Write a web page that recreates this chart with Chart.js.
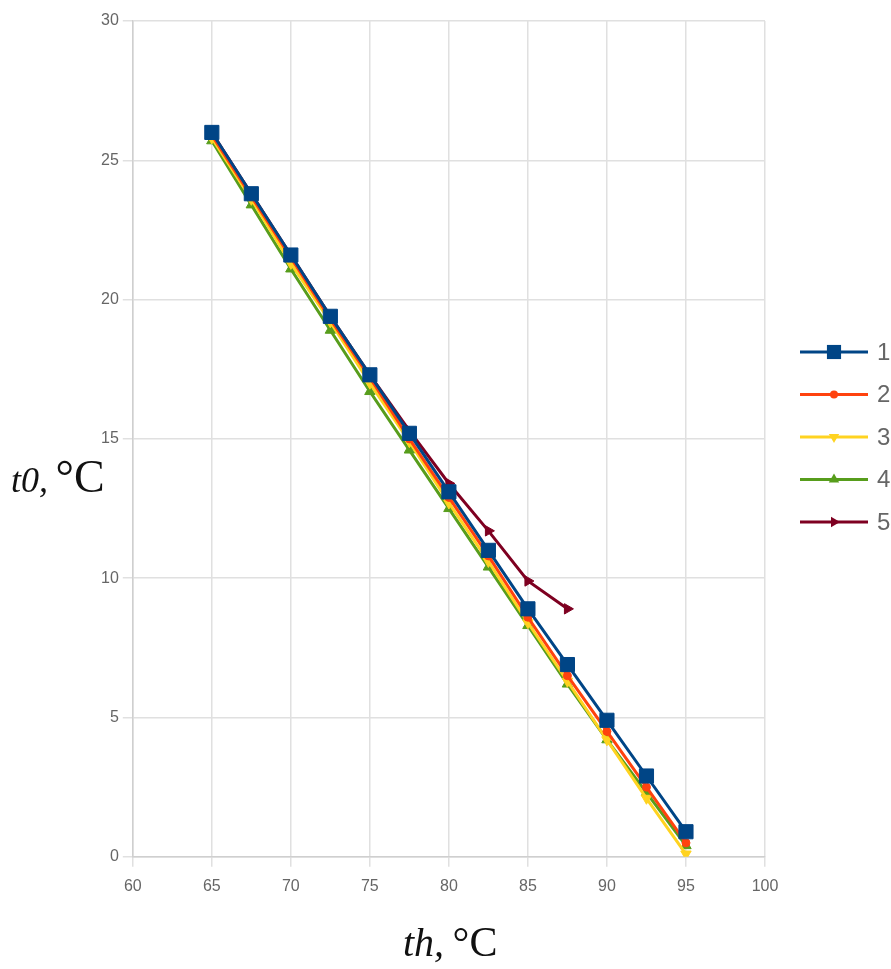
<!DOCTYPE html>
<html>
<head>
<meta charset="utf-8">
<script src="https://cdn.jsdelivr.net/npm/chart.js@4.4.1/dist/chart.umd.min.js"></script>
<style>
  html, body { margin: 0; padding: 0; background: #fff; }
  #wrap { width: 891px; height: 969px; position: relative; }
</style>
</head>
<body>
<div id="wrap"><canvas id="c" width="891" height="969"></canvas></div>
<script>
// ---- data ----
const thValues = [65, 67.5, 70, 72.5, 75, 77.5, 80, 82.5, 85, 87.5, 90, 92.5, 95];
const series1 = [26.0, 23.8, 21.6, 19.4, 17.3, 15.2, 13.1, 11.0, 8.9, 6.9, 4.9, 2.9, 0.9];
const series2 = [25.9, 23.7, 21.5, 19.3, 17.2, 15.0, 12.9, 10.8, 8.6, 6.5, 4.5, 2.5, 0.5];
const series3 = [25.8, 23.6, 21.3, 19.2, 17.0, 14.9, 12.7, 10.6, 8.4, 6.3, 4.2, 2.1, 0.1];
const series4 = [25.7, 23.4, 21.1, 18.9, 16.7, 14.6, 12.5, 10.4, 8.3, 6.2, 4.2, 2.3, 0.4];
const series5 = [26.0, 23.8, 21.6, 19.4, 17.3, 15.3, 13.4, 11.7, 9.9, 8.9];
const seriesLabels = ['1', '2', '3', '4', '5'];
const xTicks = [60, 65, 70, 75, 80, 85, 90, 95, 100];
const yTicks = [0, 5, 10, 15, 20, 25, 30];

const colors = ['#004586', '#ff420e', '#ffd320', '#579d1c', '#7e0021'];
const styles = [
  { pointStyle: 'rect', radius: 10, rotation: 0 },
  { pointStyle: 'circle', radius: 4, rotation: 0 },
  { pointStyle: 'triangle', radius: 6, rotation: 180 },
  { pointStyle: 'triangle', radius: 6, rotation: 0 },
  { pointStyle: 'triangle', radius: 6, rotation: 90 }
];
const allSeries = [series1, series2, series3, series4, series5];

function toPoints(ys) {
  return ys.map((y, i) => ({ x: thValues[i], y: y }));
}

const datasets = allSeries.map((s, i) => ({
  label: seriesLabels[i],
  data: toPoints(s),
  borderColor: colors[i],
  backgroundColor: colors[i],
  borderWidth: 3,
  pointStyle: styles[i].pointStyle,
  pointRadius: styles[i].radius,
  pointHoverRadius: styles[i].radius,
  rotation: styles[i].rotation,
  pointBorderWidth: 1,
  tension: 0,
  fill: false
}));

function drawMarker(ctx, x, y, st, color) {
  ctx.save();
  ctx.fillStyle = color;
  ctx.strokeStyle = color;
  ctx.translate(x, y);
  ctx.rotate(st.rotation * Math.PI / 180);
  const r = st.radius;
  ctx.beginPath();
  if (st.pointStyle === 'rect') {
    const s = r * Math.SQRT1_2;
    ctx.rect(-s, -s, 2 * s, 2 * s);
  } else if (st.pointStyle === 'circle') {
    ctx.arc(0, 0, r, 0, Math.PI * 2);
  } else {
    ctx.moveTo(0, -r);
    ctx.lineTo(r * Math.sin(2 * Math.PI / 3), -r * Math.cos(2 * Math.PI / 3));
    ctx.lineTo(r * Math.sin(4 * Math.PI / 3), -r * Math.cos(4 * Math.PI / 3));
    ctx.closePath();
  }
  ctx.fill();
  ctx.restore();
}

const decorPlugin = {
  id: 'decor',
  afterDraw(chart) {
    const ctx = chart.ctx;
    ctx.save();
    // legend
    for (let i = 0; i < seriesLabels.length; i++) {
      const y = 352 + i * 42.5;
      ctx.strokeStyle = colors[i];
      ctx.lineWidth = 3;
      ctx.beginPath();
      ctx.moveTo(800, y);
      ctx.lineTo(868, y);
      ctx.stroke();
      drawMarker(ctx, 834, y, styles[i], colors[i]);
      ctx.fillStyle = '#666';
      ctx.font = '24px "Liberation Sans", Arial, sans-serif';
      ctx.textBaseline = 'middle';
      ctx.textAlign = 'left';
      ctx.fillText(seriesLabels[i], 877, y + 1);
    }
    // y axis title: t0, °C
    ctx.fillStyle = '#111';
    ctx.textBaseline = 'alphabetic';
    ctx.font = 'italic 36px "Liberation Serif", "Times New Roman", serif';
    ctx.fillText('t0,', 11, 492);
    let w = ctx.measureText('t0,').width;
    ctx.font = '46px "Liberation Serif", "Times New Roman", serif';
    ctx.fillText(' °C', 11 + w - 4, 492);
    // x axis title: th, °C
    ctx.font = 'italic 40px "Liberation Serif", "Times New Roman", serif';
    ctx.fillText('th,', 403, 956);
    w = ctx.measureText('th,').width;
    ctx.font = '42px "Liberation Serif", "Times New Roman", serif';
    ctx.fillText(' °C', 403 + w - 2, 956);
    ctx.restore();
  }
};

new Chart(document.getElementById('c'), {
  type: 'line',
  data: { datasets: datasets },
  options: {
    responsive: false,
    animation: false,
    layout: { padding: { left: 97, right: 126, top: 21, bottom: 63 } },
    plugins: {
      legend: { display: false },
      tooltip: { enabled: false },
      title: { display: false }
    },
    scales: {
      x: {
        type: 'linear',
        min: 60, max: 100,
        afterBuildTicks(axis) { axis.ticks = xTicks.map(v => ({ value: v })); },
        grid: { color: '#e0e0e0', lineWidth: 1.5, tickLength: 10, drawTicks: true },
        border: { color: '#cfcfcf', width: 1.5 },
        ticks: { color: '#666', padding: 10, font: { family: '"Liberation Sans", Arial, sans-serif', size: 16 } }
      },
      y: {
        type: 'linear',
        min: 0, max: 30,
        afterBuildTicks(axis) { axis.ticks = yTicks.map(v => ({ value: v })); },
        grid: { color: '#e0e0e0', lineWidth: 1.5, tickLength: 10 },
        border: { color: '#cfcfcf', width: 1.5 },
        ticks: { color: '#666', padding: 4, font: { family: '"Liberation Sans", Arial, sans-serif', size: 16 } }
      }
    }
  },
  plugins: [decorPlugin]
});
</script>
</body>
</html>
